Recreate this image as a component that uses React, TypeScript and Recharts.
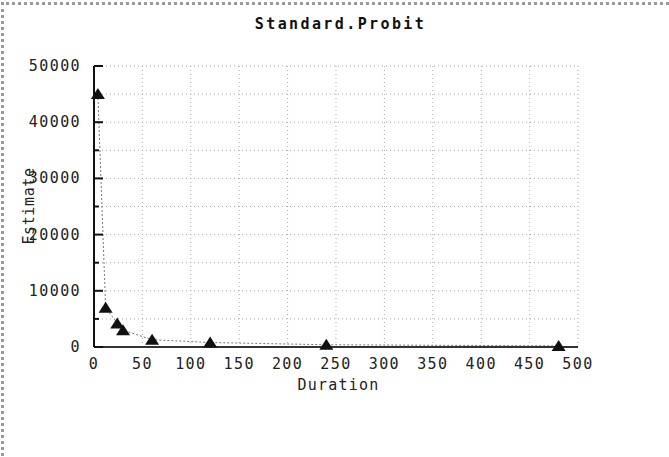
import { CartesianGrid, Line, LineChart, XAxis, YAxis } from "recharts";

const durations = [4, 12, 24, 30, 60, 120, 240, 480];
const estimates = [45000, 7000, 4200, 3000, 1300, 800, 400, 200];
const xTicks = [0, 50, 100, 150, 200, 250, 300, 350, 400, 450, 500];
const yTicks = [0, 5000, 10000, 15000, 20000, 25000, 30000, 35000, 40000, 45000, 50000];

const data = durations.map((d, i) => ({ duration: d, estimate: estimates[i] }));

const mono = "'DejaVu Sans Mono', monospace";

function YTick(props: any) {
  const { x, y, payload } = props;
  const major = payload.value % 10000 === 0;
  return (
    <g>
      <line x1={x} x2={x + (major ? 9 : 5)} y1={y} y2={y} stroke="#111" strokeWidth={2} />
      {major && (
        <text x={x - 13} y={y + 5} textAnchor="end" fontFamily={mono} fontSize={15} letterSpacing={1.4} fill="#222">
          {payload.value}
        </text>
      )}
    </g>
  );
}

function XTick(props: any) {
  const { x, y, payload } = props;
  return (
    <text x={x} y={y + 22} textAnchor="middle" fontFamily={mono} fontSize={15} letterSpacing={1.4} fill="#222">
      {payload.value}
    </text>
  );
}

function Tri(props: any) {
  const { cx, cy } = props;
  if (cx == null || cy == null) return null;
  return <path d={`M${cx} ${cy - 6}L${cx + 7} ${cy + 5}L${cx - 7} ${cy + 5}Z`} fill="#111" />;
}

export default function App() {
  return (
    <div style={{ position: "absolute", left: 0, top: 0, width: 669, height: 457, background: "#fff", overflow: "hidden" }}>
      <div style={{ position: "absolute", left: 1, top: 2, width: 700, height: 500, borderLeft: "3px dotted #999", borderTop: "3px dotted #999" }} />
      <div style={{ position: "absolute", left: 0, width: 669, top: 15, textAlign: "center", fontFamily: mono, fontWeight: "bold", fontSize: 15, letterSpacing: 2.4, color: "#111", paddingLeft: 6 }}>
        Standard.Probit
      </div>
      <div style={{ position: "absolute", left: 0, width: 669, top: 376, textAlign: "center", fontFamily: mono, fontSize: 15, letterSpacing: 1.2, color: "#222", paddingLeft: 4 }}>
        Duration
      </div>
      <div style={{ position: "absolute", left: 29, top: 206, transform: "translate(-50%, -50%) rotate(-90deg)", fontFamily: mono, fontSize: 15, letterSpacing: 0.6, color: "#222", whiteSpace: "nowrap" }}>
        Estimate
      </div>
      <LineChart width={669} height={457} data={data} margin={{ top: 66, right: 91, bottom: 70, left: 0 }} style={{ position: "absolute", left: 0, top: 0 }}>
        <CartesianGrid stroke="#aaa" strokeDasharray="1 3" />
        <XAxis
          dataKey="duration"
          type="number"
          domain={[0, 500]}
          ticks={xTicks}
          height={40}
          tickSize={0}
          tickMargin={0}
          tick={<XTick />}
          axisLine={{ stroke: "#333", strokeWidth: 2 }}
          tickLine={false}
        />
        <YAxis
          type="number"
          domain={[0, 50000]}
          ticks={yTicks}
          width={94}
          tickSize={0}
          tickMargin={0}
          tick={<YTick />}
          axisLine={{ stroke: "#111", strokeWidth: 2 }}
          tickLine={false}
          interval={0}
        />
        <Line
          dataKey="estimate"
          stroke="#777"
          strokeWidth={1}
          strokeDasharray="2 2"
          dot={<Tri />}
          isAnimationActive={false}
        />
      </LineChart>
    </div>
  );
}
